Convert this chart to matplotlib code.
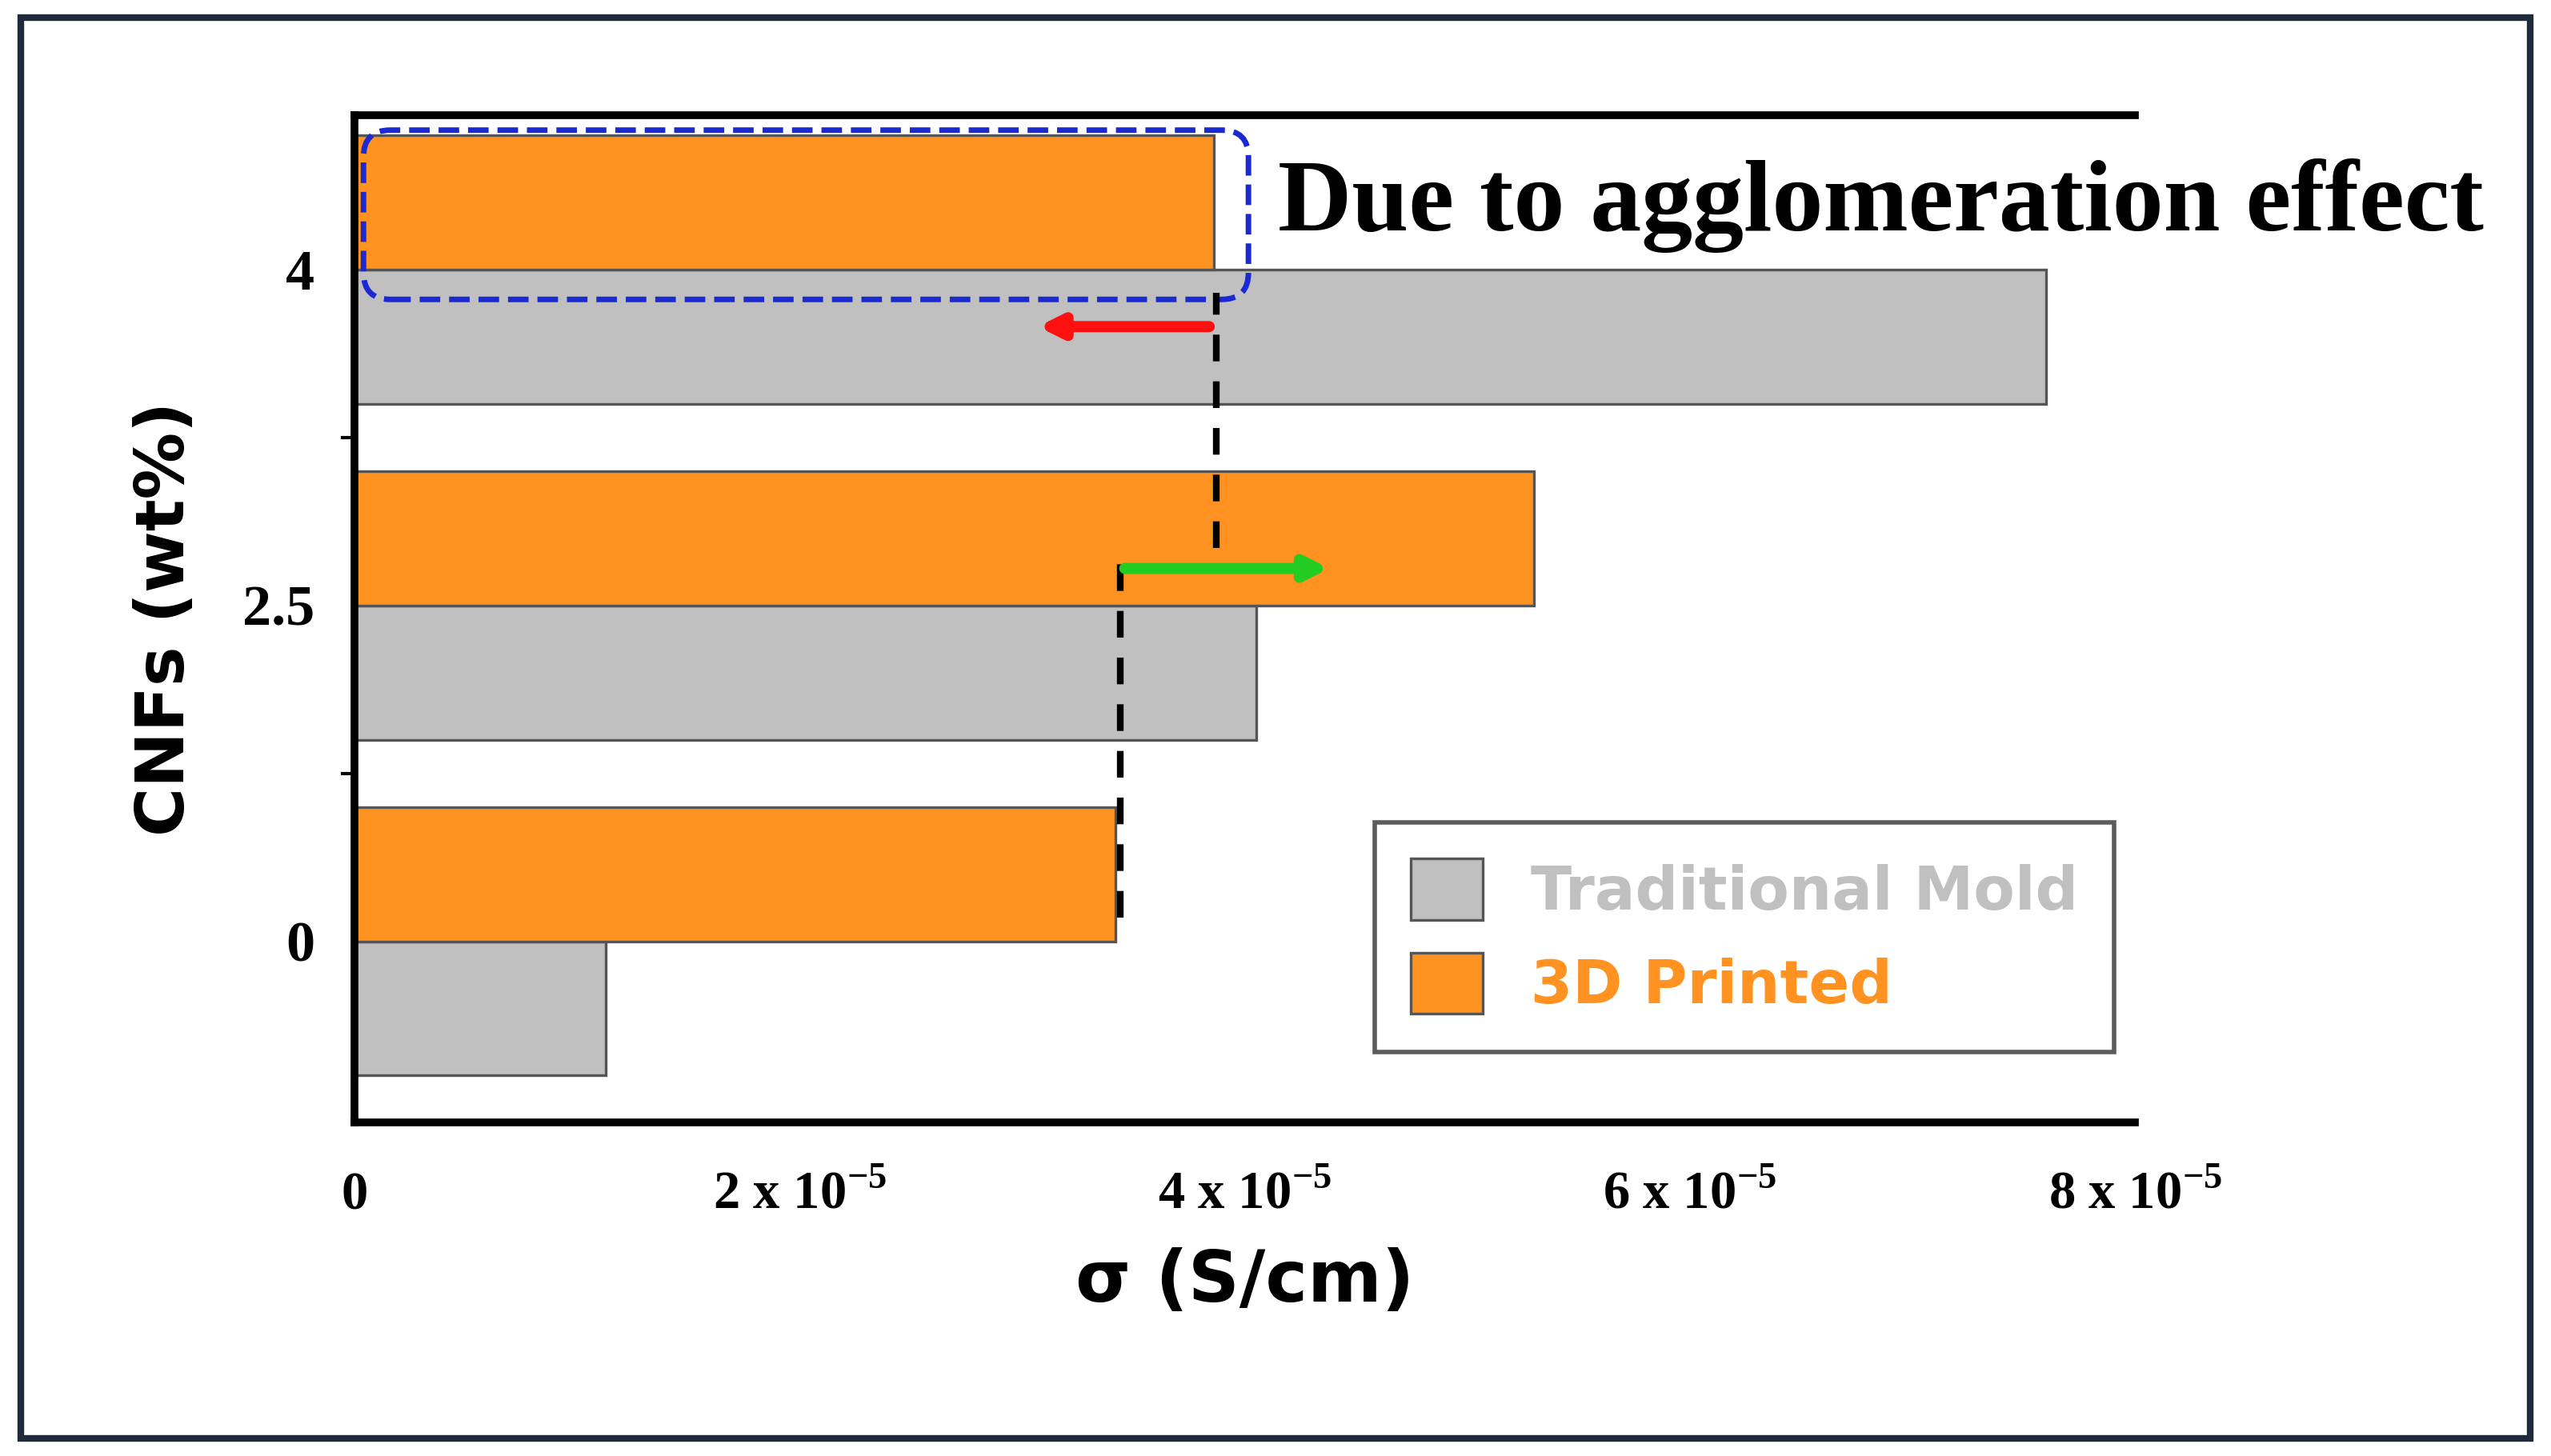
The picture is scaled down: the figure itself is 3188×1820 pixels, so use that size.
import matplotlib
matplotlib.use("Agg")
import matplotlib.pyplot as plt
from matplotlib.patches import Rectangle, FancyBboxPatch

categories = ["0", "2.5", "4"]
traditional = [1.13e-5, 4.05e-5, 7.6e-5]
printed = [3.42e-5, 5.3e-5, 3.86e-5]
xticks = [0, 2e-5, 4e-5, 6e-5, 8e-5]
xticklabels = ["0", r"2 x 10$^{\mathregular{-5}}$", r"4 x 10$^{\mathregular{-5}}$",
               r"6 x 10$^{\mathregular{-5}}$", r"8 x 10$^{\mathregular{-5}}$"]

fig = plt.figure(figsize=(15.94, 9.1), dpi=200)
fig.patches.append(Rectangle((0.008, 0.012), 0.984, 0.976, transform=fig.transFigure,
                             fill=False, edgecolor="#1f2a3a", linewidth=3))
ax = fig.add_axes([0.139, 0.229, 0.698, 0.692])
ys = list(range(len(categories)))
h = 0.4
ax.barh([y - 0.2 for y in ys], traditional, height=h, color="#c0c0c0", edgecolor="#555555", linewidth=1.2, label="Traditional Mold")
ax.barh([y + 0.2 for y in ys], printed, height=h, color="#ff9220", edgecolor="#555555", linewidth=1.2, label="3D Printed")
ax.set_xlim(0, 7.95e-5)
ax.set_ylim(-0.54, 2.46)
ax.set_yticks(ys)
ax.set_yticklabels(categories, fontsize=26, fontweight="bold", family="Liberation Serif")
ax.set_yticks([0.5, 1.5], minor=True)
ax.set_xticks(xticks)
ax.set_xticklabels(xticklabels, fontsize=24, fontweight="bold", family="Liberation Serif")
ax.tick_params(axis="x", length=0, pad=22)
ax.tick_params(axis="y", which="major", length=0, pad=18)
ax.tick_params(axis="y", which="minor", length=6, width=1.5)
for s in ["top", "bottom", "left"]:
    ax.spines[s].set_linewidth(3.5)
ax.spines["right"].set_visible(False)
ax.set_xlabel("σ (S/cm)", fontsize=32, fontweight="bold", labelpad=12)
ax.set_ylabel("CNFs (wt%)", fontsize=30, fontweight="bold", labelpad=20)

# annotations
ax.add_patch(FancyBboxPatch((0.005, 0.817), 0.497, 0.168, transform=ax.transAxes,
                            boxstyle="round,pad=0,rounding_size=0.015", mutation_aspect=1.78,
                            fill=False, edgecolor="#1a2ad0", linestyle="--", linewidth=2.5, clip_on=False))
ax.text(4.15e-5, 2.19, "Due to agglomeration effect", fontsize=46, fontweight="bold",
        family="Liberation Serif", va="center", ha="left", clip_on=False)
ax.plot([3.87e-5, 3.87e-5], [1.17, 1.93], "k--", linewidth=3, dashes=(4, 3))
ax.plot([3.44e-5, 3.44e-5], [0.07, 1.15], "k--", linewidth=3, dashes=(4, 3))
ax.annotate("", xy=(3.05e-5, 1.83), xytext=(3.86e-5, 1.83),
            arrowprops=dict(arrowstyle="-|>,head_length=0.8,head_width=0.4", color="#ff1010", lw=5))
ax.annotate("", xy=(4.4e-5, 1.11), xytext=(3.44e-5, 1.11),
            arrowprops=dict(arrowstyle="-|>,head_length=0.8,head_width=0.4", color="#22cc22", lw=5))

leg = ax.legend(loc="lower right", bbox_to_anchor=(1.005, 0.04), frameon=True,
                fancybox=False, edgecolor="#333333", handlelength=1.2, handleheight=1.2,
                borderpad=0.6, labelspacing=0.5, prop={"weight": "bold", "size": 27})
leg.get_frame().set_linewidth(2)
leg.texts[0].set_color("#c0c0c0")
leg.texts[1].set_color("#ff9220")

fig.savefig("out.png", dpi=200)
